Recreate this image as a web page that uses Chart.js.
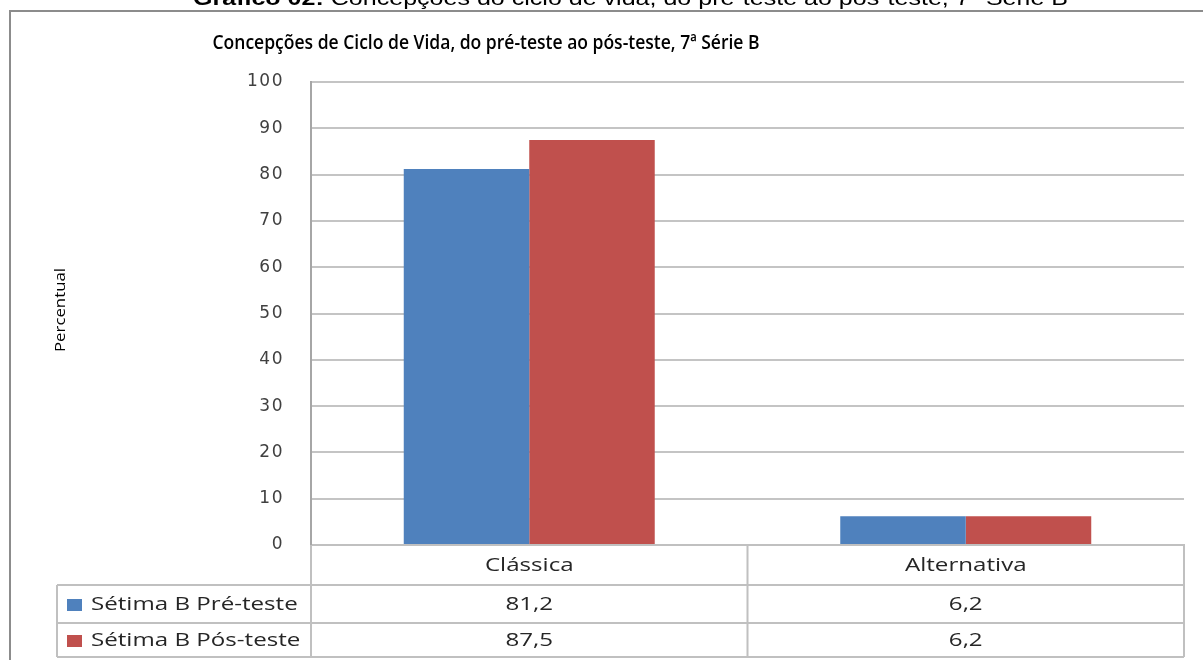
<!DOCTYPE html>
<html>
<head>
<meta charset="utf-8">
<script src="https://cdn.jsdelivr.net/npm/chart.js@4"></script>
<style>
html,body{margin:0;padding:0;background:#fff;overflow:hidden}
#wrap{width:1203px;height:660px;position:relative}
canvas{display:block}
</style>
</head>
<body>
<div id="wrap"><canvas id="c" width="1203" height="660"></canvas></div>
<script>
// ---- data ----
const categories = ['Clássica', 'Alternativa'];
const seriesNames = ['Sétima B Pré-teste', 'Sétima B Pós-teste'];
const preTeste = [81.2, 6.2];
const posTeste = [87.5, 6.2];
const yMin = 0, yMax = 100, yStep = 10;
const captionBold = 'Gráfico 02:';
const captionRest = ' Concepções do ciclo de vida, do pré-teste ao pós-teste, 7ª Série B';
const chartTitle = 'Concepções de Ciclo de Vida, do pré-teste ao pós-teste, 7ª Série B';
const yTitle = 'Percentual';

// ---- style ----
const W = 1203, H = 660;
const colors = ['#4f81bd', '#c0504d'];
const lineCol = '#c0c0c0';
const textCol = '#262626';
const tableLeft = 57;
const rowH = [40, 38, 34];

function fmt(v){ return v.toFixed(1).replace('.', ','); }

function stretchText(ctx, text, x, y, sx, align){
  ctx.save();
  ctx.translate(x, y);
  ctx.scale(sx, 1);
  ctx.textAlign = align || 'center';
  ctx.fillText(text, 0, 0);
  ctx.restore();
}

const decor = {
  id: 'decor',
  beforeDraw(chart){
    const ctx = chart.ctx;
    ctx.save();
    ctx.fillStyle = '#fff';
    ctx.fillRect(0, 0, W, H);
    // outer frame
    ctx.strokeStyle = '#8c8c8c';
    ctx.lineWidth = 2;
    ctx.beginPath();
    ctx.moveTo(10, H + 5); ctx.lineTo(10, 11); ctx.lineTo(W + 5, 11);
    ctx.stroke();
    // caption (cut at top)
    ctx.fillStyle = '#000';
    ctx.textBaseline = 'alphabetic';
    ctx.font = 'bold 20px "Liberation Sans", Arial, sans-serif';
    const wb = ctx.measureText(captionBold).width;
    ctx.font = '20px "Liberation Sans", Arial, sans-serif';
    const wr = ctx.measureText(captionRest).width;
    const sx = 875 / (wb + wr);
    ctx.save();
    ctx.translate(193, 5);
    ctx.scale(sx, 1);
    ctx.textAlign = 'left';
    ctx.font = 'bold 20px "Liberation Sans", Arial, sans-serif';
    ctx.fillText(captionBold, 0, 0);
    ctx.font = '20px "Liberation Sans", Arial, sans-serif';
    ctx.fillText(captionRest, wb, 0);
    ctx.restore();
    // chart title
    ctx.fillStyle = '#000';
    ctx.font = '600 20px "Open Sans", sans-serif';
    const wt = ctx.measureText(chartTitle).width;
    stretchText(ctx, chartTitle, 486, 49, 547 / wt, 'center');
    // y title
    ctx.save();
    ctx.translate(61, 310);
    ctx.rotate(-Math.PI / 2);
    ctx.font = '14px "Open Sans", sans-serif';
    ctx.textBaseline = 'middle';
    ctx.fillStyle = '#000';
    const wy = ctx.measureText(yTitle).width;
    ctx.scale(84 / wy, 1);
    ctx.textAlign = 'center';
    ctx.fillText(yTitle, 0, 0);
    ctx.restore();
    ctx.restore();
    ctx.letterSpacing = '1.5px';
  },
  afterDraw(chart){
    const ctx = chart.ctx;
    ctx.letterSpacing = '0px';
    const ca = chart.chartArea;
    const x = chart.scales.x;
    const nCat = categories.length;
    const half = (x.getPixelForValue(1) - x.getPixelForValue(0)) / 2;
    const colEdges = [ca.left];
    for (let i = 0; i < nCat; i++) colEdges.push(x.getPixelForValue(i) + half);
    const rowEdges = [ca.bottom];
    rowH.forEach(h => rowEdges.push(rowEdges[rowEdges.length - 1] + h));
    ctx.save();
    ctx.strokeStyle = lineCol;
    ctx.lineWidth = 2;
    ctx.beginPath();
    for (let r = 1; r < rowEdges.length; r++){
      ctx.moveTo(tableLeft, rowEdges[r]); ctx.lineTo(ca.right, rowEdges[r]);
    }
    ctx.moveTo(tableLeft, rowEdges[1]); ctx.lineTo(tableLeft, rowEdges[rowEdges.length - 1]);
    colEdges.forEach(cx => { ctx.moveTo(cx, ca.bottom); ctx.lineTo(cx, rowEdges[rowEdges.length - 1]); });
    ctx.stroke();
    // text
    ctx.fillStyle = textCol;
    ctx.textBaseline = 'middle';
    ctx.font = '18px "Open Sans", sans-serif';
    const S = 1.34;
    categories.forEach((c, i) => {
      stretchText(ctx, c, x.getPixelForValue(i), (rowEdges[0] + rowEdges[1]) / 2 + 1, S, 'center');
    });
    const series = [preTeste, posTeste];
    series.forEach((vals, s) => {
      const cy = (rowEdges[s + 1] + rowEdges[s + 2]) / 2 + 1;
      ctx.fillStyle = colors[s];
      ctx.fillRect(67, cy - 6, 15, 12);
      ctx.fillStyle = textCol;
      stretchText(ctx, seriesNames[s], 91, cy, S, 'left');
      vals.forEach((v, i) => {
        stretchText(ctx, fmt(v), x.getPixelForValue(i), cy, S, 'center');
      });
    });
    ctx.restore();
  }
};

new Chart(document.getElementById('c'), {
  type: 'bar',
  data: {
    labels: categories,
    datasets: [
      { label: seriesNames[0], data: preTeste, backgroundColor: colors[0], borderWidth: 0 },
      { label: seriesNames[1], data: posTeste, backgroundColor: colors[1], borderWidth: 0 }
    ]
  },
  options: {
    responsive: false,
    animation: false,
    devicePixelRatio: 1,
    layout: { padding: { left: 0, right: 19, top: 82, bottom: 115 } },
    categoryPercentage: 0.575,
    barPercentage: 1,
    plugins: { legend: { display: false }, title: { display: false }, tooltip: { enabled: false } },
    scales: {
      x: {
        ticks: { display: false },
        grid: { display: false, drawTicks: false },
        border: { display: true, color: lineCol, width: 2 },
        afterFit(s){ s.height = 0; }
      },
      y: {
        min: yMin, max: yMax,
        ticks: { stepSize: yStep, padding: 27, color: '#404040', font: { family: '"DejaVu Sans", Verdana, sans-serif', size: 17 } },
        grid: { color: '#c4c4c4', lineWidth: 2, drawTicks: false },
        border: { display: true, color: '#a6a6a6', width: 2 },
        afterFit(s){ s.width = 311; }
      }
    }
  },
  plugins: [decor]
});
</script>
</body>
</html>
